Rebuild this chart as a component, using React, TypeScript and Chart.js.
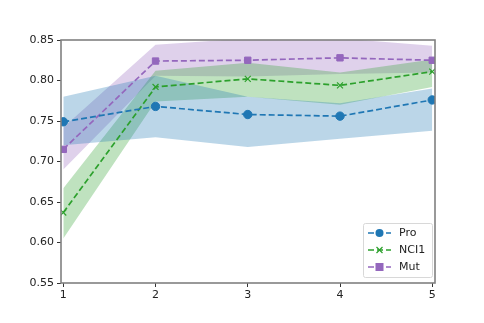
import React, { useEffect, useRef } from "react";
import { Chart, registerables } from "chart.js";
Chart.register(...registerables);

const xValues = [1, 2, 3, 4, 5];
const xTicks = [1, 2, 3, 4, 5];
const yTicks = [0.55, 0.6, 0.65, 0.7, 0.75, 0.8, 0.85];

const proMean = [0.749, 0.768, 0.758, 0.756, 0.776];
const proUpper = [0.78, 0.806, 0.78, 0.772, 0.79];
const proLower = [0.72, 0.73, 0.718, 0.728, 0.738];

const nciMean = [0.637, 0.792, 0.802, 0.794, 0.811];
const nciUpper = [0.667, 0.812, 0.822, 0.81, 0.826];
const nciLower = [0.605, 0.774, 0.78, 0.77, 0.792];

const mutMean = [0.715, 0.824, 0.825, 0.828, 0.825];
const mutUpper = [0.742, 0.844, 0.852, 0.852, 0.843];
const mutLower = [0.69, 0.806, 0.805, 0.808, 0.81];

const seriesNames = ["Pro", "NCI1", "Mut"];
const colors = ["#1f77b4", "#2ca02c", "#9467bd"];
const fills = ["rgba(31,119,180,0.3)", "rgba(44,160,44,0.3)", "rgba(148,103,189,0.3)"];
const markers = ["circle", "crossRot", "rect"];

const pts = (arr: number[]) => arr.map((y, i) => ({ x: xValues[i], y }));

export default function App() {
  const ref = useRef<HTMLCanvasElement | null>(null);
  useEffect(() => {
    document.body.style.margin = "0";
    const means = [proMean, nciMean, mutMean];
    const uppers = [proUpper, nciUpper, mutUpper];
    const lowers = [proLower, nciLower, mutLower];
    const datasets: any[] = [];
    for (let i = 0; i < 3; i++) {
      datasets.push({
        label: seriesNames[i] + "_u",
        data: pts(uppers[i]),
        borderWidth: 0,
        borderColor: "transparent",
        pointRadius: 0,
        backgroundColor: fills[i],
        fill: "+1",
        order: 10,
      });
      datasets.push({
        label: seriesNames[i] + "_l",
        data: pts(lowers[i]),
        borderWidth: 0,
        borderColor: "transparent",
        pointRadius: 0,
        fill: false,
        order: 10,
      });
    }
    for (let i = 0; i < 3; i++) {
      datasets.push({
        label: seriesNames[i],
        data: pts(means[i]),
        borderColor: colors[i],
        backgroundColor: colors[i],
        borderWidth: 1.7,
        borderDash: [6, 3],
        pointStyle: markers[i],
        pointRadius: i === 2 ? 4.5 : 4.2,
        pointBorderColor: colors[i],
        pointBackgroundColor: colors[i],
        pointBorderWidth: i === 1 ? 1.2 : 1,
        fill: false,
        tension: 0,
        order: 1,
      });
    }

    const framePlugin = {
      id: "frame",
      afterDraw(chart: any) {
        const { ctx, chartArea: a } = chart;
        ctx.save();
        ctx.strokeStyle = "#808080";
        ctx.lineWidth = 1.6;
        ctx.strokeRect(a.left, a.top, a.right - a.left, a.bottom - a.top);
        // legend
        const bx = 363, by = 223, bw = 69, bh = 54;
        ctx.fillStyle = "rgba(255,255,255,0.85)";
        ctx.strokeStyle = "#d8d8d8";
        ctx.lineWidth = 1;
        ctx.beginPath();
        (ctx as any).roundRect(bx + 0.5, by + 0.5, bw, bh, 2);
        ctx.fill();
        ctx.stroke();
        ctx.font = "11px 'DejaVu Sans'";
        ctx.textBaseline = "middle";
        for (let i = 0; i < 3; i++) {
          const yy = by + 10 + i * 17;
          ctx.strokeStyle = colors[i];
          ctx.lineWidth = 1.7;
          ctx.setLineDash([6, 3]);
          ctx.beginPath();
          ctx.moveTo(368, yy);
          ctx.lineTo(391, yy);
          ctx.stroke();
          ctx.setLineDash([]);
          ctx.fillStyle = colors[i];
          const cx = 379.5;
          if (markers[i] === "circle") {
            ctx.beginPath();
            ctx.arc(cx, yy, 4, 0, Math.PI * 2);
            ctx.fill();
          } else if (markers[i] === "rect") {
            ctx.fillRect(cx - 4, yy - 4, 8, 8);
          } else {
            ctx.lineWidth = 1.2;
            ctx.beginPath();
            ctx.moveTo(cx - 3, yy - 3);
            ctx.lineTo(cx + 3, yy + 3);
            ctx.moveTo(cx + 3, yy - 3);
            ctx.lineTo(cx - 3, yy + 3);
            ctx.stroke();
          }
          ctx.fillStyle = "#222";
          ctx.fillText(seriesNames[i], 399, yy);
        }
        ctx.restore();
      },
    };

    const chart = new Chart(ref.current as HTMLCanvasElement, {
      type: "line",
      data: { datasets },
      options: {
        animation: false,
        responsive: false,
        maintainAspectRatio: false,
        layout: { padding: { left: 0, top: 40, right: 49, bottom: 0 } },
        plugins: { legend: { display: false }, tooltip: { enabled: false } },
        scales: {
          x: {
            type: "linear",
            min: 0.975,
            max: 5.03,
            afterBuildTicks: (s: any) => {
              s.ticks = xTicks.map((v) => ({ value: v }));
            },
            afterFit: (s: any) => {
              s.height = 40;
            },
            ticks: {
              color: "#222",
              font: { family: "DejaVu Sans", size: 11 },
              padding: 2,
              maxRotation: 0,
              callback: (v: any) => String(v),
            },
            grid: { drawOnChartArea: false, drawTicks: true, tickLength: 4, color: "#333" },
            border: { display: false },
          },
          y: {
            type: "linear",
            min: 0.55,
            max: 0.85,
            afterBuildTicks: (s: any) => {
              s.ticks = yTicks.map((v) => ({ value: v }));
            },
            afterFit: (s: any) => {
              s.width = 61;
            },
            ticks: {
              color: "#222",
              font: { family: "DejaVu Sans", size: 11 },
              padding: 3,
              callback: (v: any) => Number(v).toFixed(2),
            },
            grid: { drawOnChartArea: false, drawTicks: true, tickLength: 4, color: "#333" },
            border: { display: false },
          },
        },
      },
      plugins: [framePlugin],
    } as any);
    return () => chart.destroy();
  }, []);
  return (
    <div style={{ position: "absolute", left: 0, top: 0, width: 484, height: 323, background: "#fff" }}>
      <canvas ref={ref} width={484} height={323} style={{ width: 484, height: 323 }} />
    </div>
  );
}
